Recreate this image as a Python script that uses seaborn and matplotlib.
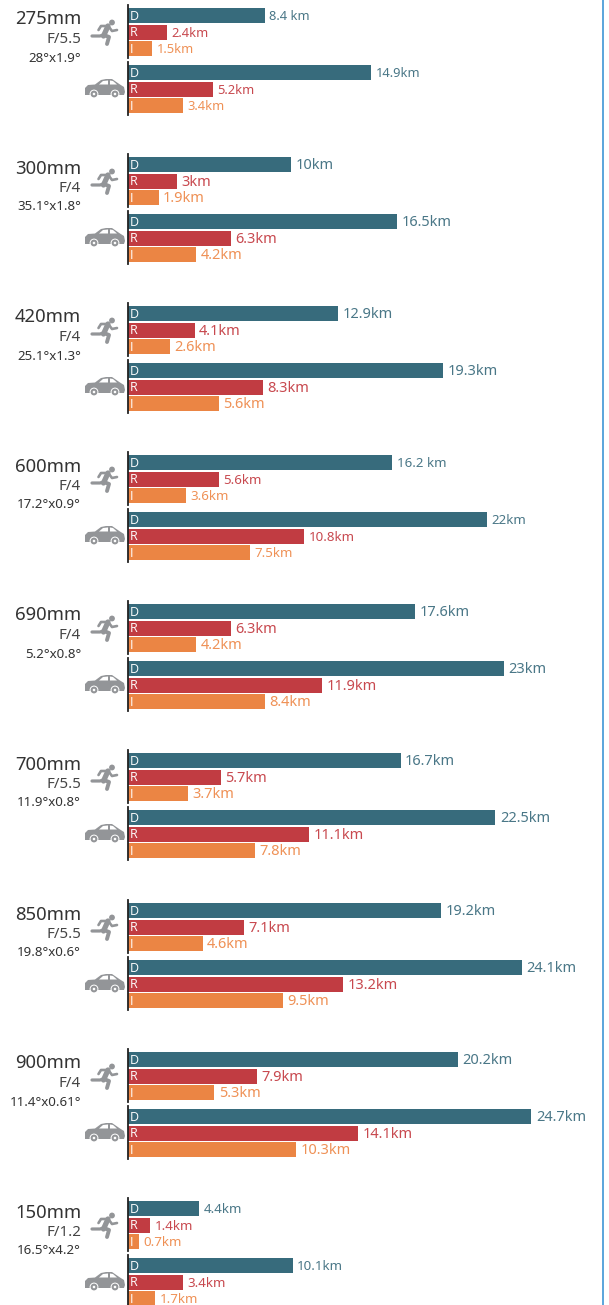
import matplotlib
matplotlib.use('Agg')
import matplotlib.pyplot as plt
import seaborn as sns
from matplotlib.patches import Circle, Polygon

sns.set_theme(style='white')
plt.rcParams['font.family'] = ['Noto Sans', 'DejaVu Sans']

W, H = 609, 1305

lenses = ['275mm', '300mm', '420mm', '600mm', '690mm', '700mm', '850mm', '900mm', '150mm']
apertures = ['F/5.5', 'F/4', 'F/4', 'F/4', 'F/4', 'F/5.5', 'F/5.5', 'F/4', 'F/1.2']
fovs = ['28°x1.9°', '35.1°x1.8°', '25.1°x1.3°', '17.2°x0.9°', '5.2°x0.8°',
        '11.9°x0.8°', '19.8°x0.6°', '11.4°x0.61°', '16.5°x4.2°']
kinds = ['D', 'R', 'I']

# D, R, I for a person, then for a vehicle
person = [[8.4, 2.4, 1.5], [10, 3, 1.9], [12.9, 4.1, 2.6], [16.2, 5.6, 3.6], [17.6, 6.3, 4.2],
          [16.7, 5.7, 3.7], [19.2, 7.1, 4.6], [20.2, 7.9, 5.3], [4.4, 1.4, 0.7]]
vehicle = [[14.9, 5.2, 3.4], [16.5, 6.3, 4.2], [19.3, 8.3, 5.6], [22, 10.8, 7.5], [23, 11.9, 8.4],
           [22.5, 11.1, 7.8], [24.1, 13.2, 9.5], [24.7, 14.1, 10.3], [10.1, 3.4, 1.7]]
person_labels = [['8.4 km', '2.4km', '1.5km'], ['10km', '3km', '1.9km'], ['12.9km', '4.1km', '2.6km'],
                 ['16.2 km', '5.6km', '3.6km'], ['17.6km', '6.3km', '4.2km'], ['16.7km', '5.7km', '3.7km'],
                 ['19.2km', '7.1km', '4.6km'], ['20.2km', '7.9km', '5.3km'], ['4.4km', '1.4km', '0.7km']]
vehicle_labels = [['14.9km', '5.2km', '3.4km'], ['16.5km', '6.3km', '4.2km'], ['19.3km', '8.3km', '5.6km'],
                  ['22km', '10.8km', '7.5km'], ['23km', '11.9km', '8.4km'], ['22.5km', '11.1km', '7.8km'],
                  ['24.1km', '13.2km', '9.5km'], ['24.7km', '14.1km', '10.3km'], ['10.1km', '3.4km', '1.7km']]
label_sizes = [9.3, 10.5, 10.5, 9.6, 10.5, 10.5, 10.5, 10.5, 9.6]

tops = [8, 157, 306, 455, 604, 753, 903, 1052, 1201]
colors = {'D': '#376b7c', 'R': '#c13c42', 'I': '#eb8544'}
text_colors = {'D': '#4a7787', 'R': '#c8494f', 'I': '#ef9156'}
icon_gray = '#939598'
px_per_km = 16.35
x0 = 127.5


def pixel_axes(left, top, width, height):
    return plt.gcf().add_axes([left / W, 1 - (top + height) / H, width / W, height / H])


def bars(top, values, labels, size):
    # three rows, 16.4 px each, spine a little past the bars
    ax = pixel_axes(x0, top - 3, W - x0, 53)
    sns.barplot(x=values, y=kinds, hue=kinds, palette=colors, order=kinds, width=0.93,
                saturation=1, linewidth=0, legend=False, dodge=False, ax=ax)
    ax.set_xlim(0, (W - x0) / px_per_km)
    ax.set_ylim(2.58, -0.66)
    ax.set_xticks([])
    ax.set_yticks([])
    ax.set_xlabel('')
    ax.set_ylabel('')
    ax.patch.set_alpha(0)
    for s in ['top', 'right', 'bottom']:
        ax.spines[s].set_visible(False)
    ax.spines['left'].set_color('#222222')
    ax.spines['left'].set_linewidth(1.3)
    for i, k in enumerate(kinds):
        ax.annotate(k, (0, i), xytext=(2.5, -0.5), textcoords='offset pixels', color='white',
                    fontsize=9, family=['Open Sans', 'DejaVu Sans'], va='center', ha='left')
        ax.annotate(labels[i], (values[i], i), xytext=(4.5, -1), textcoords='offset pixels',
                    color=text_colors[k], fontsize=size, va='center', ha='left')


def runner(ax, y):
    strokes = [([108, 103.5], [26, 36], 3.8),
               ([107, 101, 98.5], [26, 26, 30], 1.9),
               ([109, 112, 117], [27, 31, 30], 1.9),
               ([104, 109, 107], [35, 37, 44], 2.8),
               ([103, 100, 92], [35, 36, 36], 2.3)]
    for xs, ys, lw in strokes:
        ax.plot(xs, [v - 8 + y for v in ys], color=icon_gray, lw=lw,
                solid_capstyle='round', solid_joinstyle='round')
    ax.add_patch(Circle((112, 22.5 - 8 + y), 2.9, color=icon_gray, lw=0))


def car(ax, y):
    shift = lambda pts: [(a, b - 8 + y) for a, b in pts]
    body = [(85, 95), (85, 88), (88, 85), (95, 84.5), (101, 80), (106, 79), (112, 79),
            (120, 84.5), (124, 87), (125, 92), (124, 95)]
    ax.add_patch(Polygon(shift(body), color=icon_gray, lw=0))
    for win in ([(99, 84.5), (103, 81), (108, 80.5), (108, 84.5)],
                [(110, 80.5), (113, 81), (117, 84.5), (110, 84.5)]):
        ax.add_patch(Polygon(shift(win), color='white', lw=0))
    for cx in (94, 115):
        ax.add_patch(Circle((cx, 94 - 8 + y), 4.4, color='white', lw=0))
        ax.add_patch(Circle((cx, 94 - 8 + y), 3.4, color=icon_gray, lw=0))
        ax.add_patch(Circle((cx, 94 - 8 + y), 1.3, color='white', lw=0))


fig = plt.figure(figsize=(W / 100, H / 100), dpi=100)
over = fig.add_axes([0, 0, 1, 1])
over.set_xlim(0, W)
over.set_ylim(H, 0)
over.axis('off')
over.axvline(602.5, color='#5aa5dc', lw=1.4)

for i, top in enumerate(tops):
    bars(top, person[i], person_labels[i], label_sizes[i])
    bars(top + 57, vehicle[i], vehicle_labels[i], label_sizes[i])
    over.text(81, top + 11.5, lenses[i], ha='right', va='center', fontsize=13.3, color='#333333')
    over.text(81, top + 31.5, apertures[i], ha='right', va='center', fontsize=10.8, color='#444444')
    over.text(81, top + 50, fovs[i], ha='right', va='center', fontsize=9.6, color='#333333')
    runner(over, top)
    car(over, top)

fig.savefig('out.png', dpi=100)
